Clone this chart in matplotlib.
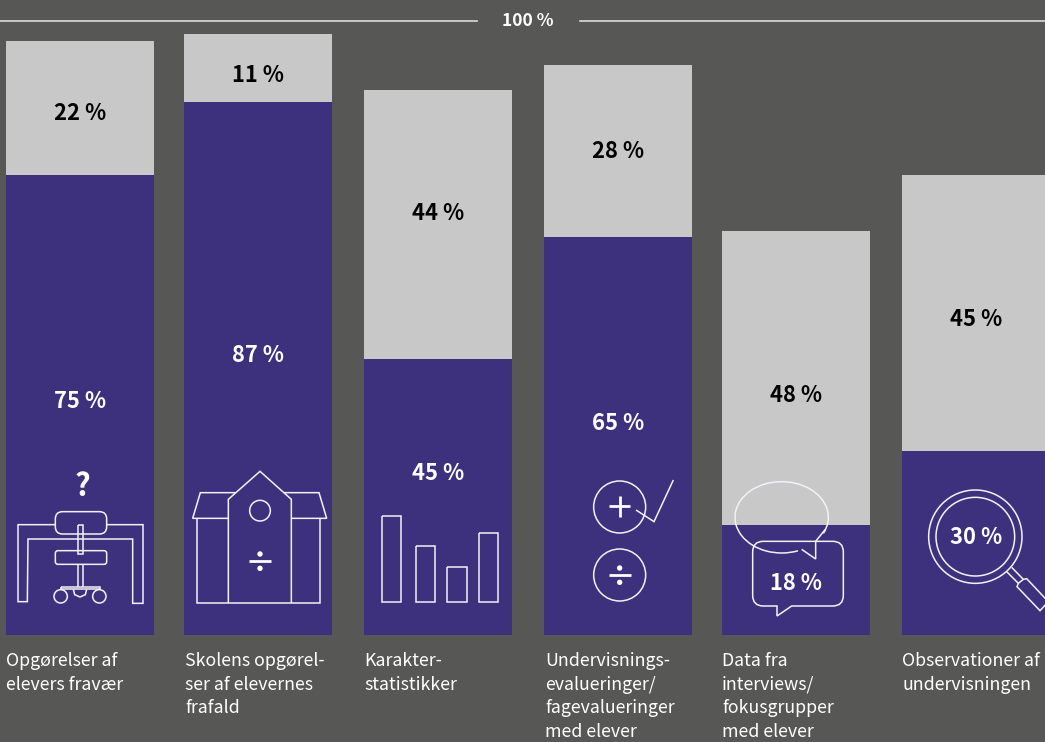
import matplotlib
matplotlib.use("Agg")
import matplotlib.pyplot as plt
from matplotlib.patches import Arc, Circle, FancyBboxPatch, PathPatch
from matplotlib.path import Path

# ---- data ----
categories = [
    "Opgørelser af\nelevers fravær",
    "Skolens opgørel-\nser af elevernes\nfrafald",
    "Karakter-\nstatistikker",
    "Undervisnings-\nevalueringer/\nfagevalueringer\nmed elever",
    "Data fra\ninterviews/\nfokusgrupper\nmed elever",
    "Observationer af\nundervisningen",
]
purple_values = [75, 87, 45, 65, 18, 30]
gray_values = [22, 11, 44, 28, 48, 45]

# ---- style / layout ----
BG = "#575756"
PURPLE = "#3D317E"
GRAY = "#C8C8C8"
FONT = ["Noto Sans CJK SC", "DejaVu Sans"]
bar_left = [6, 184, 364, 544, 722, 902]
bar_w = 148
base_px, px_per_pct = 635.2, 6.13
gray_label_y = [113, 76, 213, 151, 395, 319]
purple_label_y = [402, 356, 473, 424, 584, 538]
label_cx = [80, 258, 438, 618, 796, 976]

plt.rcParams["font.family"] = FONT
fig = plt.figure(figsize=(10.45, 7.42), dpi=100, facecolor=BG)

ax = fig.add_axes([0, 0, 1, 1])
ax.set_facecolor(BG)
ax.set_xlim(0, 1045)
ax.set_ylim((base_px - 742) / px_per_pct, base_px / px_per_pct)
ax.axis("off")
ax.bar(bar_left, purple_values, width=bar_w, align="edge", color=PURPLE, linewidth=0)
ax.bar(bar_left, gray_values, bottom=purple_values, width=bar_w, align="edge", color=GRAY, linewidth=0)

# overlay in pixel coordinates
ov = fig.add_axes([0, 0, 1, 1], facecolor="none")
ov.set_xlim(0, 1045)
ov.set_ylim(742, 0)
ov.axis("off")

LW = 1.1
WHITE = "#F2F1F7"


def line(ox, oy, pts, lw=LW, closed=False, color=WHITE):
    xs = [ox + p[0] / 3 for p in pts]
    ys = [oy + p[1] / 3 for p in pts]
    if closed:
        xs.append(xs[0])
        ys.append(ys[0])
    ov.plot(xs, ys, color=color, lw=lw, solid_joinstyle="miter", solid_capstyle="butt", zorder=3)


def circ(ox, oy, cx, cy, r, fill="none", lw=LW):
    ov.add_patch(Circle((ox + cx / 3, oy + cy / 3), r / 3, fc=fill, ec=WHITE, lw=lw, zorder=3))


def rrect(ox, oy, x0, y0, x1, y1, r, fc="none"):
    ov.add_patch(FancyBboxPatch((ox + (x0 + r) / 3, oy + (y0 + r) / 3), (x1 - x0 - 2 * r) / 3, (y1 - y0 - 2 * r) / 3,
                                boxstyle=f"round,pad={r / 3},rounding_size={r / 3}", fc=fc, ec=WHITE, lw=LW, zorder=3))


def divide(ox, oy, cx, cy):
    ov.plot([ox + (cx - 33) / 3, ox + (cx + 33) / 3], [oy + cy / 3] * 2, color="white", lw=2.0,
            solid_capstyle="butt", zorder=3)
    ov.add_patch(Circle((ox + cx / 3, oy + (cy - 22) / 3), 2.7, fc="white", ec="none", zorder=3))
    ov.add_patch(Circle((ox + cx / 3, oy + (cy + 21) / 3), 2.7, fc="white", ec="none", zorder=3))


# header rule
ov.plot([0, 477], [21, 21], color="#DADADA", lw=1.2)
ov.plot([580, 1045], [21, 21], color="#DADADA", lw=1.2)
ov.text(528, 21, "100 %", color="white", fontsize=12.6, fontweight="bold", ha="center", va="center")

# icon 1: desk and chair
o = (0, 460)
line(*o, [(166, 194), (54, 194), (54, 425), (82, 425), (84, 237), (398, 237), (398, 430), (429, 430), (429, 194), (320, 194)])
rrect(*o, 166, 155, 320, 222, 22, fc=PURPLE)
rrect(*o, 166, 272, 320, 313, 8, fc=PURPLE)
line(*o, [(233, 194), (249, 194), (249, 282), (233, 282)], closed=True)
line(*o, [(233, 313), (233, 380)])
line(*o, [(249, 313), (249, 380)])
line(*o, [(184, 380), (299, 380), (299, 388), (184, 388)], closed=True)
circ(*o, 182, 409, 20)
circ(*o, 298, 409, 20)
line(*o, [(220, 388), (224, 404), (240, 411), (256, 404), (260, 388)])
ov.text(82, 486.5, "?", color="white", fontsize=22, fontweight="bold", ha="center", va="center")

# icon 2: school
line(*o, [(592, 175), (592, 429), (961, 429), (961, 175)])
line(*o, [(685, 429), (685, 118), (780, 34), (874, 118), (874, 429)])
line(*o, [(685, 175), (578, 175), (601, 98), (705, 98)])
line(*o, [(874, 175), (980, 175), (957, 98), (852, 98)])
circ(*o, 780, 152, 31)
divide(*o, 780, 304)

# icon 3: bars
o = (360, 460)
for x0, x1, y0 in [(65, 124, 168), (167, 225, 258), (262, 320, 320), (358, 415, 218)]:
    line(*o, [(x0, y0), (x1, y0), (x1, 427), (x0, 427)], closed=True)

# icon 4: plus, check, divide
circ(*o, 779, 141, 78)
circ(*o, 779, 345, 78)
ov.plot([o[0] + 747 / 3, o[0] + 811 / 3], [o[1] + 139 / 3] * 2, color="white", lw=2.0, solid_capstyle="butt", zorder=3)
ov.plot([o[0] + 779 / 3] * 2, [o[1] + 107 / 3, o[1] + 171 / 3], color="white", lw=2.0, solid_capstyle="butt", zorder=3)
line(*o, [(828, 150), (882, 185), (940, 60)])
divide(*o, 779, 346)

# icon 5: speech bubbles
o = (715, 460)
ov.add_patch(Arc((o[0] + 200 / 3, o[1] + 172 / 3), 280 / 3, 214 / 3, theta1=64, theta2=381, ec=WHITE, lw=LW, zorder=3))
line(*o, [(260, 268), (302, 297), (302, 244), (331, 208)])
verts = [(145, 244), (353, 244), (385, 244), (385, 276), (385, 406), (385, 438), (353, 438), (230, 438), (186, 468),
         (186, 438), (145, 438), (113, 438), (113, 406), (113, 276), (113, 244), (145, 244)]
pv = [(o[0] + a / 3, o[1] + b / 3) for a, b in verts]
codes = [Path.MOVETO, Path.LINETO, Path.CURVE3, Path.CURVE3, Path.LINETO, Path.CURVE3, Path.CURVE3, Path.LINETO, Path.LINETO,
         Path.LINETO, Path.LINETO, Path.CURVE3, Path.CURVE3, Path.LINETO, Path.CURVE3, Path.CURVE3]
ov.add_patch(PathPatch(Path(pv, codes), fc="none", ec=WHITE, lw=LW, zorder=3))

# icon 6: magnifier
circ(*o, 781, 230, 140)
circ(*o, 781, 230, 118)
line(*o, [(875, 335), (910, 370)])
line(*o, [(890, 322), (925, 358)])
line(*o, [(925, 358), (935, 356), (1000, 425), (975, 452), (906, 380), (910, 370)], closed=True)

# value labels and category captions
for i in range(len(categories)):
    ov.text(label_cx[i], gray_label_y[i], f"{gray_values[i]} %", color="black", fontsize=15.8, fontweight="bold",
            ha="center", va="center", zorder=5)
    ov.text(label_cx[i], purple_label_y[i], f"{purple_values[i]} %", color="white", fontsize=15.8, fontweight="bold",
            ha="center", va="center", zorder=5)
    for j, s in enumerate(categories[i].split("\n")):
        ov.text(bar_left[i] + (1 if i == 1 or i == 3 else 0), 661.5 + j * 23.4, s, color="white", fontsize=12.8,
                ha="left", va="center")

fig.savefig("out.png", dpi=100, facecolor=BG)
